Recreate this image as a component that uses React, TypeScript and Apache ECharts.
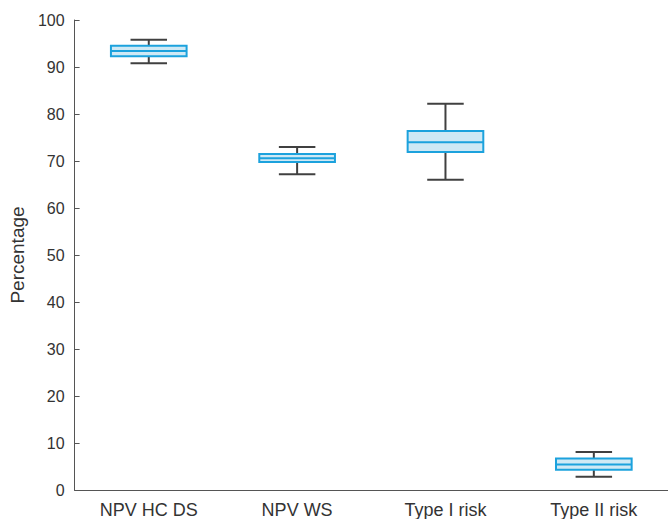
import React, { useEffect, useRef } from "react";
import * as echarts from "echarts";

const categories = ["NPV HC DS", "NPV WS", "Type I risk", "Type II risk"];
const whiskerLow = [90.8, 67.2, 66.0, 2.8];
const q1Values = [92.3, 69.8, 71.9, 4.3];
const medians = [93.4, 70.6, 74.0, 5.4];
const q3Values = [94.5, 71.5, 76.4, 6.7];
const whiskerHigh = [95.8, 73.0, 82.2, 8.1];
const yTicks = { min: 0, max: 100, interval: 10 };

export default function App() {
  const ref = useRef<HTMLDivElement>(null);
  useEffect(() => {
    if (!ref.current) return;
    const chart = echarts.init(ref.current, null, { renderer: "svg" });
    const data = categories.map((_, i) => [
      i,
      whiskerLow[i],
      q1Values[i],
      medians[i],
      q3Values[i],
      whiskerHigh[i],
    ]);
    const blue = "#1ca2dd";
    const fill = "#cfe9f5";
    const gray = "#404040";
    const font = "Liberation Sans, Arial, sans-serif";
    chart.setOption({
      animation: false,
      grid: { left: 74, right: -2, top: 20, bottom: 29, containLabel: false },
      xAxis: {
        type: "category",
        data: categories,
        boundaryGap: true,
        axisLine: { lineStyle: { color: "#555", width: 1 } },
        axisTick: { alignWithLabel: true, inside: true, length: 5, lineStyle: { color: "#555" } },
        axisLabel: { color: "#333", fontSize: 18, margin: 11, fontFamily: font },
        splitLine: { show: false },
      },
      yAxis: {
        type: "value",
        min: yTicks.min,
        max: yTicks.max,
        interval: yTicks.interval,
        name: "Percentage",
        nameLocation: "middle",
        nameGap: 46,
        nameTextStyle: { color: "#333", fontSize: 19, fontFamily: font },
        axisLine: { show: true, lineStyle: { color: "#555", width: 1 } },
        axisTick: { show: true, inside: true, length: 5, lineStyle: { color: "#555" } },
        axisLabel: { color: "#333", fontSize: 16, margin: 10, fontFamily: font },
        splitLine: { show: false },
      },
      series: [
        {
          type: "custom",
          data,
          renderItem: (params: any, api: any) => {
            const idx = api.value(0);
            const band = api.size([1, 0])[0];
            const half = band * 0.255;
            const capHalf = band * 0.123;
            const pLow = api.coord([idx, api.value(1)]);
            const pQ1 = api.coord([idx, api.value(2)]);
            const pMed = api.coord([idx, api.value(3)]);
            const pQ3 = api.coord([idx, api.value(4)]);
            const pHigh = api.coord([idx, api.value(5)]);
            const x = pMed[0];
            const lineStyle = { stroke: gray, lineWidth: 2 };
            return {
              type: "group",
              children: [
                { type: "line", shape: { x1: x, y1: pHigh[1], x2: x, y2: pQ3[1] }, style: lineStyle },
                { type: "line", shape: { x1: x, y1: pQ1[1], x2: x, y2: pLow[1] }, style: lineStyle },
                { type: "line", shape: { x1: x - capHalf, y1: pHigh[1], x2: x + capHalf, y2: pHigh[1] }, style: lineStyle },
                { type: "line", shape: { x1: x - capHalf, y1: pLow[1], x2: x + capHalf, y2: pLow[1] }, style: lineStyle },
                {
                  type: "rect",
                  shape: { x: x - half, y: pQ3[1], width: half * 2, height: pQ1[1] - pQ3[1] },
                  style: { fill, stroke: blue, lineWidth: 2 },
                },
                {
                  type: "line",
                  shape: { x1: x - half, y1: pMed[1], x2: x + half, y2: pMed[1] },
                  style: { stroke: blue, lineWidth: 2 },
                },
              ],
            };
          },
        },
      ],
    });
    return () => chart.dispose();
  }, []);
  return <div ref={ref} style={{ width: 668, height: 519, position: "absolute", left: 0, top: 0 }} />;
}
